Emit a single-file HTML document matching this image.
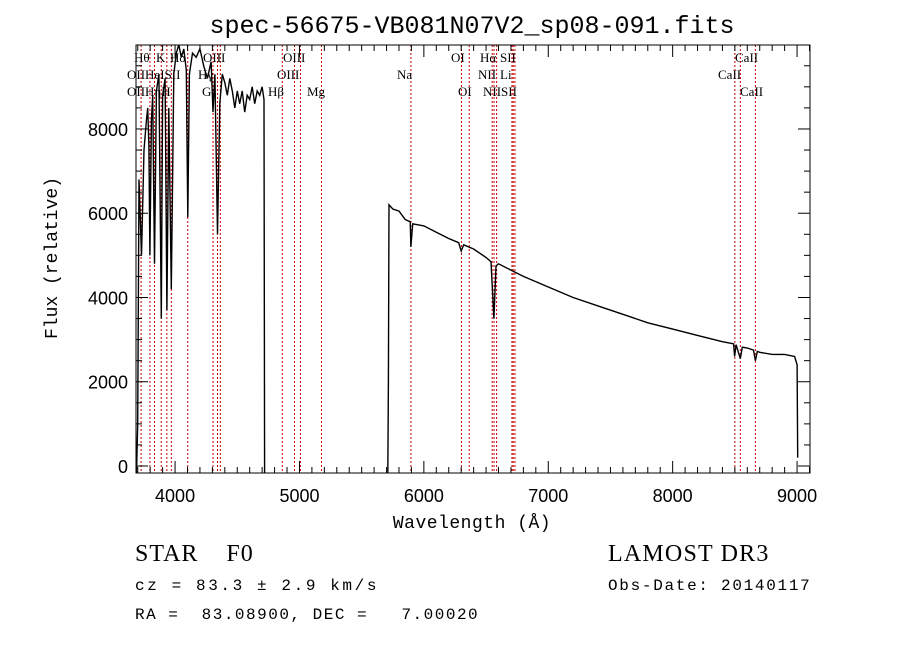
<!DOCTYPE html>
<html><head><meta charset="utf-8"><style>
body{margin:0;background:#fff;width:900px;height:649px;overflow:hidden}
svg{display:block}
.sans{font-family:"Liberation Sans",sans-serif}
.mono{font-family:"Liberation Mono",monospace}
.serif{font-family:"Liberation Serif",serif}
.lab{font-family:"Liberation Serif",serif;font-size:13px}
</style></head><body>
<svg id="c" width="900" height="649">
<defs><clipPath id="pc"><rect x="136" y="45" width="674" height="428"/></clipPath></defs>
<text class="mono" x="472" y="33" text-anchor="middle" font-size="25">spec-56675-VB081N07V2_sp08-091.fits</text>
<text class="mono" x="472" y="528" text-anchor="middle" font-size="18" letter-spacing="0.5">Wavelength (Å)</text>
<text class="mono" transform="translate(57,258) rotate(-90)" text-anchor="middle" font-size="18">Flux (relative)</text>
<text class="serif" x="135" y="561" font-size="24" letter-spacing="1" xml:space="preserve">STAR    F0</text>
<text class="serif" x="608" y="561" font-size="24" letter-spacing="1.2">LAMOST DR3</text>
<text class="mono" x="135" y="590" font-size="16" letter-spacing="2.6">cz = 83.3 ± 2.9 km/s</text>
<text class="mono" x="608" y="590" font-size="16" letter-spacing="1.7">Obs-Date: 20140117</text>
<text class="mono" x="135" y="619" font-size="16" letter-spacing="1.5" xml:space="preserve">RA =  83.08900, DEC =   7.00020</text>
</svg>
<script>
const wave=[3690,3700,3710,3730,3750,3770,3780,3790,3798,3810,3820,3835,3850,3870,3889,3900,3920,3934,3950,3970,3990,4010,4030,4050,4070,4090,4102,4115,4140,4170,4200,4230,4260,4290,4305,4320,4341,4360,4380,4400,4420,4440,4460,4480,4500,4520,4540,4560,4580,4600,4620,4640,4660,4680,4700,4715,4720,4730,5710,5715,5720,5750,5800,5850,5890,5896,5910,6000,6100,6200,6280,6300,6320,6400,6500,6540,6563,6580,6600,6700,6800,7000,7200,7400,7600,7800,8000,8200,8400,8490,8498,8510,8544,8560,8600,8650,8665,8680,8700,8800,8900,8980,9000,9005];
const flux=[-200,1000,6800,5000,7500,8200,8500,7600,5000,8200,8800,4800,8900,9300,3500,8800,9200,3700,8500,4200,9300,9800,10000,9700,9900,9400,5900,9300,9800,9700,9900,9500,9200,9600,8400,9300,5500,8600,9300,9100,8800,9200,8900,8500,8900,8600,8900,8400,8800,8700,9000,8600,8900,8800,9000,8700,-200,-200,-200,2000,6200,6100,6050,5850,5800,5200,5750,5700,5550,5400,5300,5100,5250,5150,4950,4850,3500,4750,4800,4650,4500,4250,4000,3800,3600,3400,3250,3100,2950,2900,2600,2880,2550,2820,2800,2750,2500,2720,2700,2650,2650,2600,2400,200];
const lineWaves=[3727,3798,3835,3889,3934,3970,4102,4305,4341,4364,4862,4960,5008,5177,5896,6302,6365,6549,6564,6585,6708,6718,6732,8500,8544,8665];
const labels=[["Hθ",134,62],["K",156,62],["Hδ",170,62],["OIII",203,62],["OIII",283,62],["OI",451,62],["Hα",480,62],["SII",500,62],["CaII",735,62],
["OIIHeISII",127,79],["Hγ",198,79],["OIII",277,79],["Na",397,79],["NII",478,79],["Li",500,79],["CaII",718,79],
["OIIHηH",127,96],["G",202,96],["Hβ",268,96],["Mg",307,96],["OI",458,96],["NIISII",483,96],["CaII",740,96]];
const xTicks=[4000,5000,6000,7000,8000,9000];
const yTicks=[0,2000,4000,6000,8000];
const L=136,R=810,T=45,B=473,W0=3686,W1=9104,F0=-166,F1=9993;
const X=w=>L+(w-W0)/(W1-W0)*(R-L), Y=f=>B-(f-F0)/(F1-F0)*(B-T);
const svg=document.getElementById('c'),NS='http://www.w3.org/2000/svg';
function mk(t,a,p){const e=document.createElementNS(NS,t);for(const k in a)e.setAttribute(k,a[k]);(p||svg).appendChild(e);return e;}
const g=mk('g',{'clip-path':'url(#pc)'});


lineWaves.forEach(w=>{const e=mk('line',{x1:X(w),x2:X(w),y1:T,y2:B,stroke:'#c00000','stroke-width':1,'stroke-dasharray':'2,2'},g);

});
const sp=mk('polyline',{points:wave.map((w,i)=>X(w).toFixed(1)+','+Y(flux[i]).toFixed(1)).join(' '),fill:'none',stroke:'#000','stroke-width':1.4},g);


labels.forEach(l=>{const e=mk('text',{x:l[1],y:l[2],class:'lab'});e.textContent=l[0];

});
const fr=mk('rect',{x:L,y:T,width:R-L,height:B-T,fill:'none',stroke:'#000','stroke-width':1});


for(let w=3700;w<=9100;w+=100){const m=w%1000===0,h=m?12:6;
mk('line',{x1:X(w),x2:X(w),y1:B,y2:B-h,stroke:'#000'});mk('line',{x1:X(w),x2:X(w),y1:T,y2:T+h,stroke:'#000'});}
for(let f=0;f<=9500;f+=500){const m=f%2000===0,h=m?12:6;
mk('line',{x1:L,x2:L+h,y1:Y(f),y2:Y(f),stroke:'#000'});mk('line',{x1:R,x2:R-h,y1:Y(f),y2:Y(f),stroke:'#000'});}
xTicks.forEach(w=>{const e=mk('text',{x:X(w),y:502,'text-anchor':'middle','font-size':18,class:'sans'});e.textContent=w;

});
yTicks.forEach(f=>{const e=mk('text',{x:128,y:Y(f)+7,'text-anchor':'end','font-size':18,class:'sans'});e.textContent=f;

});
</script>
</body></html>
